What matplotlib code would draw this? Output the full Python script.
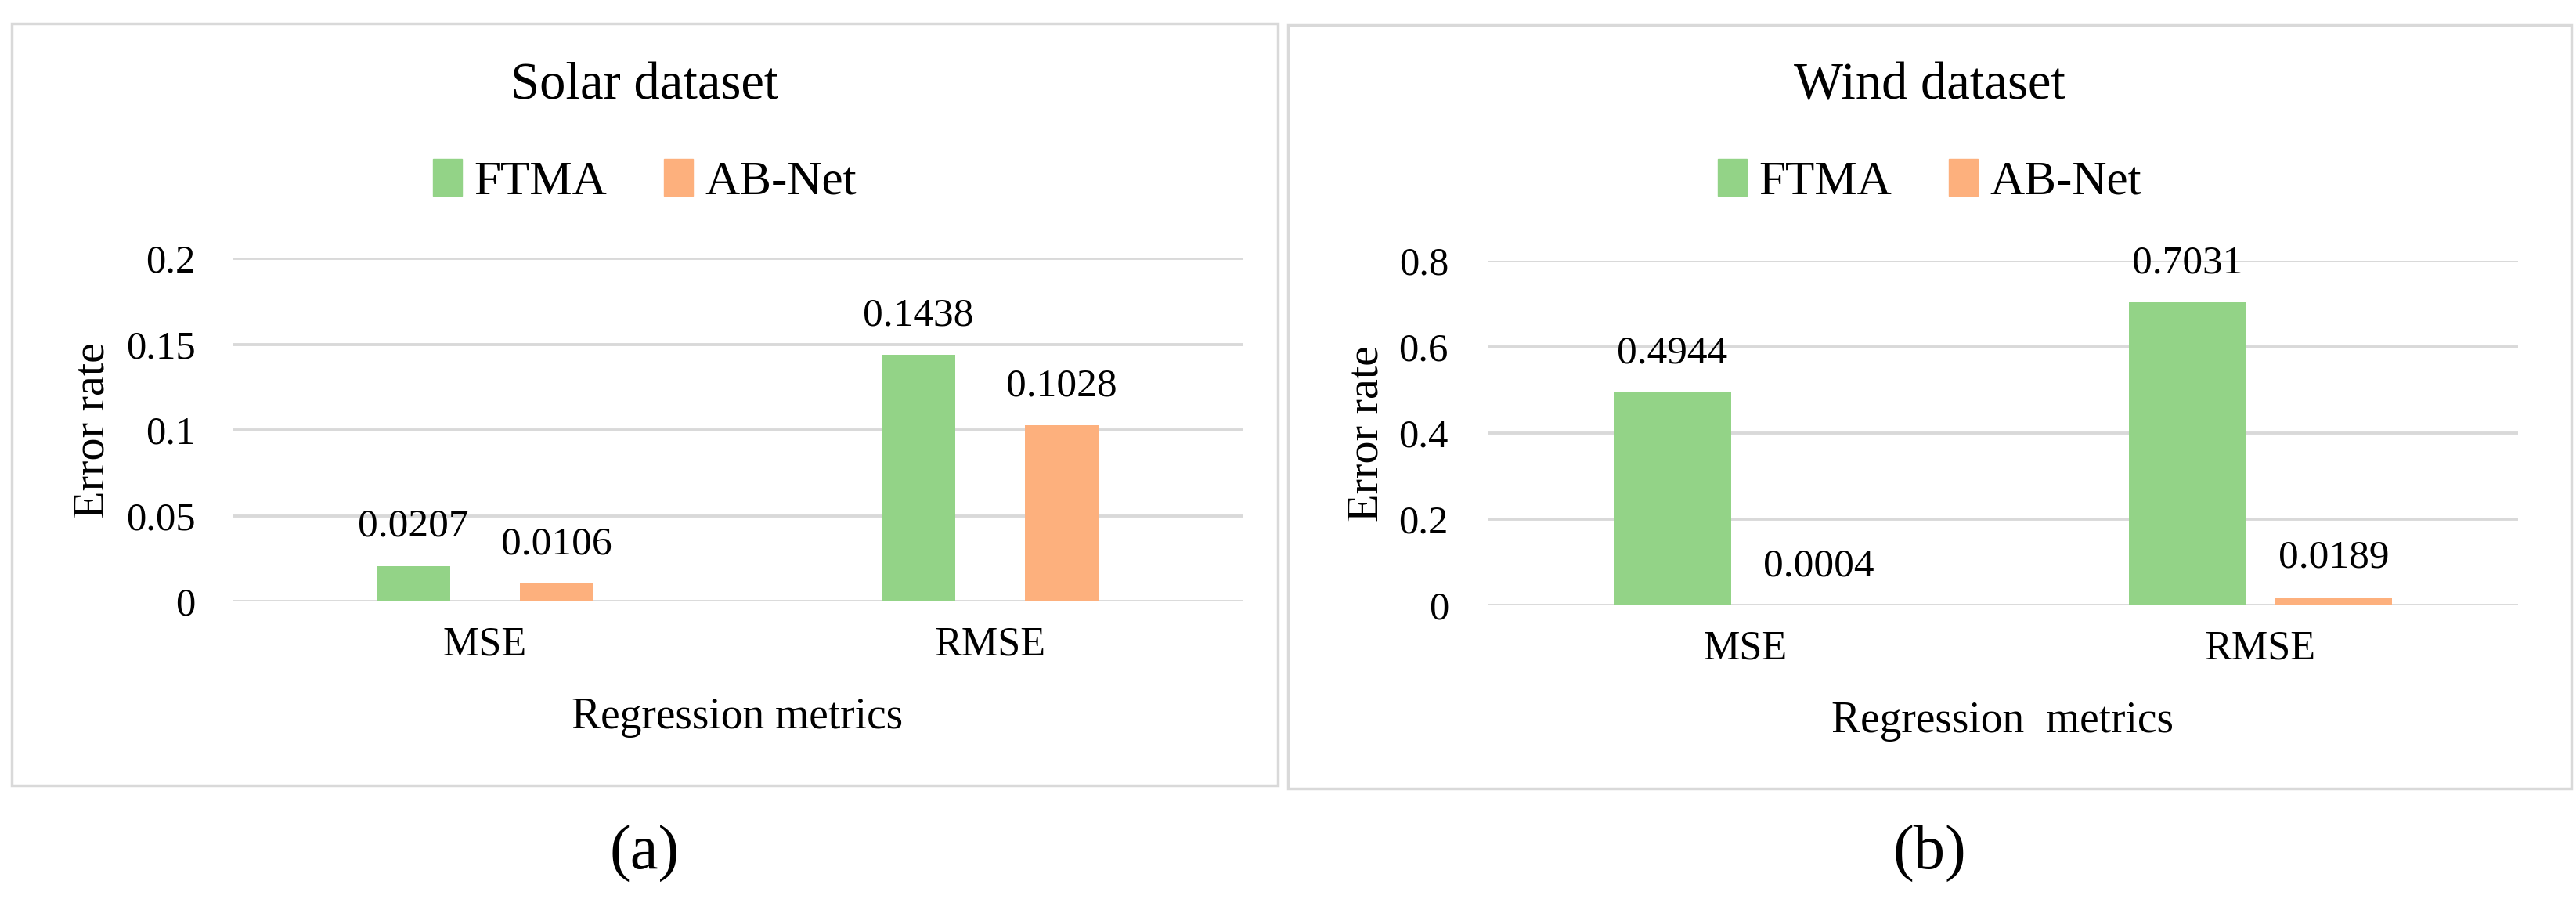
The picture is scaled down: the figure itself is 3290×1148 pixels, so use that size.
import matplotlib.pyplot as plt
from matplotlib.patches import Rectangle, Patch
import numpy as np

plt.rcParams['font.family'] = ['Liberation Serif', 'DejaVu Serif']

# datos
metrics = ['MSE', 'RMSE']
models = ['FTMA', 'AB-Net']
solar_ftma = [0.0207, 0.1438]
solar_abnet = [0.0106, 0.1028]
wind_ftma = [0.4944, 0.7031]
wind_abnet = [0.0004, 0.0189]
solar_ticks = [0, 0.05, 0.1, 0.15, 0.2]
wind_ticks = [0, 0.2, 0.4, 0.6, 0.8]

green = '#93D387'
orange = '#FDB07D'
grid_c = '#D9D9D9'

W, H = 3291, 1148
fig = plt.figure(figsize=(W / 100, H / 100), dpi=100)


def px_box(x0, y0, x1, y1):
    # caja en pixeles (origen arriba-izquierda) -> coords de figura
    return [x0 / W, 1 - y1 / H, (x1 - x0) / W, (y1 - y0) / H]


def panel(box, frame, title, ftma, abnet, ticks, ylim, width, xlabel, ylab_px, ypad,
          tick_labels, tag):
    # marco del panel
    fx0, fy0, fx1, fy1 = frame
    fig.patches.append(Rectangle((fx0 / W, 1 - fy1 / H), (fx1 - fx0) / W, (fy1 - fy0) / H,
                                 transform=fig.transFigure, fill=False,
                                 edgecolor=grid_c, linewidth=2.5))
    ax = fig.add_axes(px_box(*box))
    x = np.arange(len(metrics))
    off = 0.142
    b1 = ax.bar(x - off, ftma, width, color=green, label=models[0], zorder=3)
    b2 = ax.bar(x + off, abnet, width, color=orange, label=models[1], zorder=3)
    for bars in (b1, b2):
        for r, lab in zip(bars, [f'{v:.4f}' for v in bars.datavalues]):
            ax.annotate(lab, (r.get_x() + r.get_width() / 2, r.get_height()),
                        xytext=(0, 36), textcoords='offset points',
                        ha='center', va='center', fontsize=37, zorder=4)
    ax.set_xlim(-0.5, 1.5)
    ax.set_ylim(*ylim)
    ax.set_yticks(ticks)
    ax.set_yticklabels(tick_labels)
    ax.set_xticks(x)
    ax.set_xticklabels(metrics)
    ax.tick_params(axis='both', length=0)
    ax.tick_params(axis='x', pad=23, labelsize=37.5)
    ax.tick_params(axis='y', pad=ypad, labelsize=36.5)
    ax.yaxis.grid(True, color=grid_c, linewidth=2.8, zorder=0)
    ax.set_axisbelow(True)
    for s in ax.spines.values():
        s.set_visible(False)
    ax.set_xlabel(xlabel, fontsize=40, labelpad=30)
    ax.set_ylabel('Error rate', fontsize=42)
    # ancla de la etiqueta = borde derecho del texto girado
    ax.yaxis.set_label_coords((ylab_px - box[0]) / (box[2] - box[0]), 0.5)
    cx = (fx0 + fx1) / 2 / W
    fig.text(cx, 1 - 110 / H, title, ha='center', va='center', fontsize=48)
    fig.legend(handles=[Patch(color=green, label=models[0]), Patch(color=orange, label=models[1])],
               loc='center', bbox_to_anchor=(cx, 1 - 232 / H), ncol=2, frameon=False,
               fontsize=44, handlelength=0.6, handleheight=0.8, handletextpad=0.25,
               columnspacing=1.2)
    fig.text(cx, 1 - 1090 / H, tag, ha='center', va='center', fontsize=58)
    return ax


panel((297, 330, 1587, 768), (15, 30, 1632, 1003), 'Solar dataset',
      solar_ftma, solar_abnet, solar_ticks, (0, 0.2), 0.146, 'Regression metrics', 145, 34,
      ['0', '0.05', '0.1', '0.15', '0.2'], '(a)')
panel((1900, 333, 3216, 773), (1645, 32, 3284, 1007), 'Wind dataset',
      wind_ftma, wind_abnet, wind_ticks, (0, 0.8), 0.228, 'Regression  metrics', 1772, 36,
      ['0', '0.2', '0.4', '0.6', '0.8'], '(b)')

fig.savefig('out.png', dpi=100)
